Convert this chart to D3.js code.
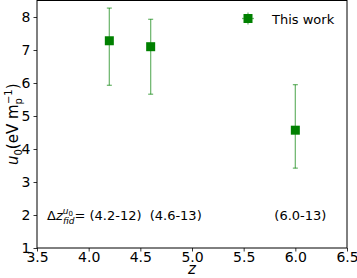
<!DOCTYPE html>
<html>
<head>
<meta charset="utf-8">
<script src="https://cdn.jsdelivr.net/npm/d3@7"></script>
<style>
body { margin: 0; background: #fff; }
text { font-family: "DejaVu Sans", sans-serif; }
</style>
</head>
<body>
<div id="chart"></div>
<script>
// data
var zVals = [4.2, 4.6, 6.0];
var u0Vals = [7.28, 7.1, 4.57];
var errLow = [5.93, 5.66, 3.42];
var errHigh = [8.27, 7.93, 5.95];
var rangeLabels = ["(4.2-12)", "(4.6-13)", "(6.0-13)"];
var xTicks = [3.5, 4.0, 4.5, 5.0, 5.5, 6.0, 6.5];
var yTicks = [1, 2, 3, 4, 5, 6, 7, 8];

var svgWidth = 357;
var svgHeight = 278;
var margin = { top: 0.5, right: 10, bottom: 30, left: 37 };
var width = 347 - margin.left;
var height = 248 - margin.top;

var svg = d3.select("#chart").append("svg")
  .attr("width", svgWidth)
  .attr("height", svgHeight);

var g = svg.append("g")
  .attr("transform", `translate(${margin.left}, ${margin.top})`);

var x = d3.scaleLinear().domain([3.5, 6.5]).range([0, width]);
var y = d3.scaleLinear().domain([1, 8.5]).range([height, 0]);

// axes
var xAxis = g.append("g")
  .attr("transform", `translate(0, ${height})`)
  .call(d3.axisBottom(x).tickValues(xTicks).tickFormat(d3.format(".1f")).tickSize(3.5).tickPadding(1));
var yAxis = g.append("g")
  .call(d3.axisLeft(y).tickValues(yTicks).tickSize(3.5).tickPadding(3));

[xAxis, yAxis].forEach(function(a) {
  a.select(".domain").remove();
  a.selectAll("line").attr("stroke", "#000").attr("stroke-width", 0.8);
  a.selectAll("text").attr("fill", "#000").style("font-size", "14px");
});

// frame
g.append("rect")
  .attr("x", 0).attr("y", 0)
  .attr("width", width).attr("height", height)
  .attr("fill", "none").attr("stroke", "#000").attr("stroke-width", 1);

// error bars
var pts = zVals.map(function(z, i) {
  return { z: z, v: u0Vals[i], lo: errLow[i], hi: errHigh[i] };
});

var errColor = "rgba(0,128,0,0.55)";
var eb = g.selectAll(".eb").data(pts).enter().append("g");
eb.append("line")
  .attr("x1", d => x(d.z)).attr("x2", d => x(d.z))
  .attr("y1", d => y(d.lo)).attr("y2", d => y(d.hi))
  .attr("stroke", errColor).attr("stroke-width", 1.3);
eb.append("line")
  .attr("x1", d => x(d.z) - 2.5).attr("x2", d => x(d.z) + 2.5)
  .attr("y1", d => y(d.lo)).attr("y2", d => y(d.lo))
  .attr("stroke", errColor).attr("stroke-width", 1.3);
eb.append("line")
  .attr("x1", d => x(d.z) - 2.5).attr("x2", d => x(d.z) + 2.5)
  .attr("y1", d => y(d.hi)).attr("y2", d => y(d.hi))
  .attr("stroke", errColor).attr("stroke-width", 1.3);

// markers
g.selectAll(".pt").data(pts).enter().append("rect")
  .attr("x", d => x(d.z) - 4.5).attr("y", d => y(d.v) - 4.5)
  .attr("width", 9).attr("height", 9)
  .attr("fill", "#008000");

// range annotations
var annY = y(2) + 5;
var ann = g.append("text").attr("x", 10).attr("y", annY).style("font-size", "13px");
ann.append("tspan").text("\u0394");
ann.append("tspan").style("font-style", "italic").text("z");
ann.append("tspan").attr("dy", -6).style("font-size", "9px").style("font-style", "italic").text("u");
ann.append("tspan").attr("dy", 2).style("font-size", "7px").text("0");
ann.append("tspan").attr("dx", -10).attr("dy", 8).style("font-size", "9px").style("font-style", "italic").text("fid");
ann.append("tspan").attr("dy", -4).text("= " + rangeLabels[0]);

g.append("text").attr("x", x(4.6) - 1).attr("y", annY).style("font-size", "13px").text(rangeLabels[1]);
g.append("text").attr("x", x(6.0) - 21).attr("y", annY).style("font-size", "13px").text(rangeLabels[2]);

// legend
var lx = 248 - margin.left, ly = 18;
g.append("line").attr("x1", lx).attr("x2", lx).attr("y1", ly - 6).attr("y2", ly + 6)
  .attr("stroke", errColor).attr("stroke-width", 1.3);
g.append("line").attr("x1", lx - 6).attr("x2", lx + 6).attr("y1", ly).attr("y2", ly)
  .attr("stroke", errColor).attr("stroke-width", 1.3);
g.append("rect").attr("x", lx - 4.5).attr("y", ly - 4.5).attr("width", 9).attr("height", 9).attr("fill", "#008000");
g.append("text").attr("x", 272 - margin.left).attr("y", ly + 5).style("font-size", "13px").text("This work");

// axis labels
svg.append("text")
  .attr("x", x(5.0) + margin.left).attr("y", 274)
  .attr("text-anchor", "middle")
  .style("font-size", "15px").style("font-style", "italic").text("z");

var yl = svg.append("text")
  .attr("transform", `translate(18, ${margin.top + height / 2}) rotate(-90)`)
  .attr("text-anchor", "middle")
  .style("font-size", "15px");
yl.append("tspan").style("font-style", "italic").text("u");
yl.append("tspan").attr("dy", 4).style("font-size", "10px").text("0");
yl.append("tspan").attr("dy", -4).text("(eV m");
yl.append("tspan").attr("dy", 4).style("font-size", "10px").text("p");
yl.append("tspan").attr("dy", -10).attr("dx", -6).style("font-size", "10px").text("\u22121");
yl.append("tspan").attr("dy", 6).text(")");
</script>
</body>
</html>
